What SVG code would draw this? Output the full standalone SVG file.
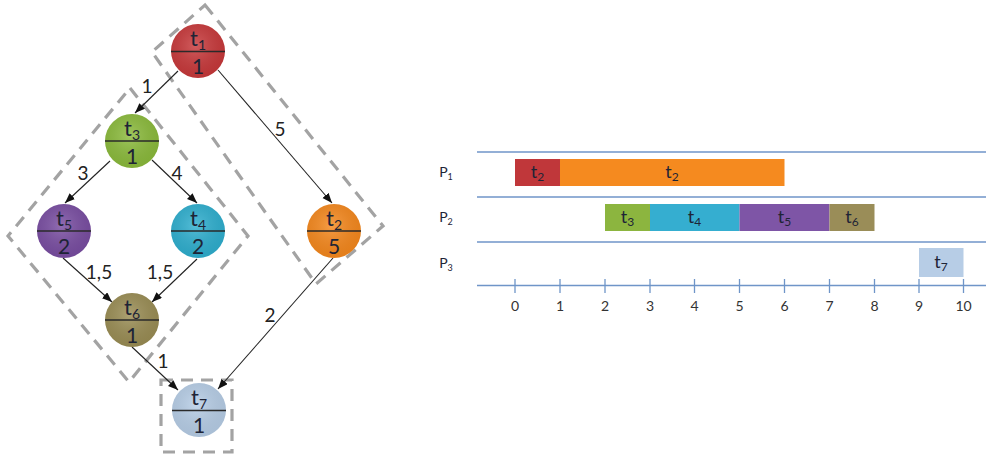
<svg xmlns="http://www.w3.org/2000/svg" width="986" height="457" viewBox="0 0 986 457">
<style>
text{font-family:Lato,"Open Sans","Liberation Sans",sans-serif;fill:#1e2436}
.nt{font-size:22px;text-anchor:middle}
.nn{font-size:21px;text-anchor:middle}
.sub{font-size:14px}
.el{font-size:19px;text-anchor:middle;fill:#222}
.div{stroke:#2a2a2a;stroke-width:1.5}
.edge{stroke:#222;stroke-width:1.1;fill:none;marker-end:url(#ah)}
.dash{fill:none;stroke:#a3a3a3;stroke-width:3.2;stroke-dasharray:12 8}
.gl{stroke:#6f95c8;stroke-width:1.3}
.tick{stroke:#6f95c8;stroke-width:1.3}
.pl{font-size:14px;text-anchor:middle}
.psub{font-size:9px}
.tl{font-size:14px;text-anchor:middle;fill:#333}
.bl{font-size:18px;text-anchor:middle}
.bsub{font-size:12px}
</style>
<defs>
<marker id="ah" markerUnits="userSpaceOnUse" markerWidth="11" markerHeight="9" refX="10" refY="4" orient="auto">
<path d="M0,0 L10,4 L0,8 z" fill="#111"/>
</marker>
<radialGradient id="gr" cx="0.45" cy="0.4" r="0.6"><stop offset="0" stop-color="#fff" stop-opacity="0.18"/><stop offset="1" stop-color="#000" stop-opacity="0.08"/></radialGradient>
</defs>
<rect width="986" height="457" fill="#fff"/>

<!-- dashed groupings -->
<g id="groups">
<polygon class="dash" points="205,5 383,226 316,284 152,52"/>
<polygon class="dash" points="130,88 248,236 129,382 8,236"/>
<rect class="dash" x="161" y="380" width="71" height="72"/>
</g>

<!-- connectors -->
<g id="connectors">
<line class="edge" x1="178" y1="71" x2="135" y2="113"/>
<line class="edge" x1="218" y1="70" x2="332" y2="203"/>
<line class="edge" x1="110" y1="161" x2="65" y2="203"/>
<line class="edge" x1="152" y1="160" x2="197" y2="203"/>
<line class="edge" x1="63" y1="258" x2="112" y2="302"/>
<line class="edge" x1="197" y1="259" x2="152" y2="302"/>
<line class="edge" x1="132" y1="347" x2="178" y2="390"/>
<line class="edge" x1="333" y1="258" x2="218" y2="389"/>
<text class="el" x="147" y="93">1</text>
<text class="el" x="280" y="136">5</text>
<text class="el" x="83" y="180">3</text>
<text class="el" x="177" y="180">4</text>
<text class="el" x="99" y="279">1,5</text>
<text class="el" x="160" y="279">1,5</text>
<text class="el" x="270" y="322">2</text>
<text class="el" x="163" y="368">1</text>
</g>

<g id="t1"><circle cx="198" cy="51" r="27" fill="#c9393b"/><circle cx="198" cy="51" r="27" fill="url(#gr)"/><line class="div" x1="171" y1="51.5" x2="225" y2="51.5"/><text class="nt" x="198" y="46">t<tspan class="sub" dy="4">1</tspan></text><text class="nn" x="198" y="74">1</text></g>
<g id="t3"><circle cx="132" cy="141" r="27" fill="#8cbc3c"/><circle cx="132" cy="141" r="27" fill="url(#gr)"/><line class="div" x1="105" y1="141" x2="159" y2="141"/><text class="nt" x="132" y="136">t<tspan class="sub" dy="4">3</tspan></text><text class="nn" x="132" y="164">1</text></g>
<g id="t5"><circle cx="64" cy="231" r="27" fill="#7a4ea3"/><circle cx="64" cy="231" r="27" fill="url(#gr)"/><line class="div" x1="37" y1="231" x2="91" y2="231"/><text class="nt" x="64" y="226">t<tspan class="sub" dy="4">5</tspan></text><text class="nn" x="64" y="254">2</text></g>
<g id="t4"><circle cx="198" cy="231" r="27" fill="#2fb0d0"/><circle cx="198" cy="231" r="27" fill="url(#gr)"/><line class="div" x1="171" y1="231" x2="225" y2="231"/><text class="nt" x="198" y="226">t<tspan class="sub" dy="4">4</tspan></text><text class="nn" x="198" y="254">2</text></g>
<g id="t2"><circle cx="334" cy="231" r="27" fill="#f7891d"/><circle cx="334" cy="231" r="27" fill="url(#gr)"/><line class="div" x1="307" y1="231" x2="361" y2="231"/><text class="nt" x="334" y="226">t<tspan class="sub" dy="4">2</tspan></text><text class="nn" x="334" y="254">5</text></g>
<g id="t6"><circle cx="132" cy="320" r="27" fill="#9b8e55"/><circle cx="132" cy="320" r="27" fill="url(#gr)"/><line class="div" x1="105" y1="320" x2="159" y2="320"/><text class="nt" x="132" y="315">t<tspan class="sub" dy="4">6</tspan></text><text class="nn" x="132" y="343">1</text></g>
<g id="t7"><circle cx="199" cy="410" r="27" fill="#b8cfe8"/><circle cx="199" cy="410" r="27" fill="url(#gr)"/><line class="div" x1="172" y1="410.5" x2="226" y2="410.5"/><text class="nt" x="199" y="405">t<tspan class="sub" dy="4">7</tspan></text><text class="nn" x="199" y="433">1</text></g>

<!-- Gantt chart -->
<g id="gantt">
<line class="gl" x1="477" y1="152" x2="986" y2="152"/>
<line class="gl" x1="477" y1="197" x2="986" y2="197"/>
<line class="gl" x1="477" y1="242" x2="986" y2="242"/>
<line class="gl" x1="477" y1="285.5" x2="986" y2="285.5"/>
<text class="pl" x="446" y="177">P<tspan class="psub" dy="3">1</tspan></text>
<text class="pl" x="446" y="222">P<tspan class="psub" dy="3">2</tspan></text>
<text class="pl" x="446" y="268">P<tspan class="psub" dy="3">3</tspan></text>
<g id="ticks">
<line class="tick" x1="515" y1="279" x2="515" y2="293"/>
<line class="tick" x1="560" y1="279" x2="560" y2="293"/>
<line class="tick" x1="605" y1="279" x2="605" y2="293"/>
<line class="tick" x1="650" y1="279" x2="650" y2="293"/>
<line class="tick" x1="694.5" y1="279" x2="694.5" y2="293"/>
<line class="tick" x1="739.5" y1="279" x2="739.5" y2="293"/>
<line class="tick" x1="784.5" y1="279" x2="784.5" y2="293"/>
<line class="tick" x1="829.5" y1="279" x2="829.5" y2="293"/>
<line class="tick" x1="874.5" y1="279" x2="874.5" y2="293"/>
<line class="tick" x1="919" y1="279" x2="919" y2="293"/>
<line class="tick" x1="963.5" y1="279" x2="963.5" y2="293"/>
<text class="tl" x="515" y="311">0</text>
<text class="tl" x="560" y="311">1</text>
<text class="tl" x="605" y="311">2</text>
<text class="tl" x="650" y="311">3</text>
<text class="tl" x="694.5" y="311">4</text>
<text class="tl" x="739.5" y="311">5</text>
<text class="tl" x="784.5" y="311">6</text>
<text class="tl" x="829.5" y="311">7</text>
<text class="tl" x="874.5" y="311">8</text>
<text class="tl" x="919" y="311">9</text>
<text class="tl" x="963.5" y="311">10</text>
</g>
<g id="bar-p1-t1"><rect x="515" y="159" width="45" height="27" fill="#c0373a"/><text class="bl" x="537.5" y="178">t<tspan class="bsub" dy="3">2</tspan></text></g>
<g id="bar-p1-t2"><rect x="560" y="159" width="224.5" height="27" fill="#f58a1f"/><text class="bl" x="672" y="178">t<tspan class="bsub" dy="3">2</tspan></text></g>
<g id="bar-p2-t3"><rect x="605" y="204" width="45" height="27" fill="#8cb53f"/><text class="bl" x="627.5" y="223">t<tspan class="bsub" dy="3">3</tspan></text></g>
<g id="bar-p2-t4"><rect x="650" y="204" width="89.5" height="27" fill="#35aed0"/><text class="bl" x="694.5" y="223">t<tspan class="bsub" dy="3">4</tspan></text></g>
<g id="bar-p2-t5"><rect x="739.5" y="204" width="90" height="27" fill="#7e55a6"/><text class="bl" x="784.5" y="223">t<tspan class="bsub" dy="3">5</tspan></text></g>
<g id="bar-p2-t6"><rect x="829.5" y="204" width="45" height="27" fill="#9a8d58"/><text class="bl" x="852" y="223">t<tspan class="bsub" dy="3">6</tspan></text></g>
<g id="bar-p3-t7"><rect x="919" y="248" width="44.5" height="29" fill="#b7cde6"/><text class="bl" x="941" y="268">t<tspan class="bsub" dy="3">7</tspan></text></g>
</g>
</svg>
